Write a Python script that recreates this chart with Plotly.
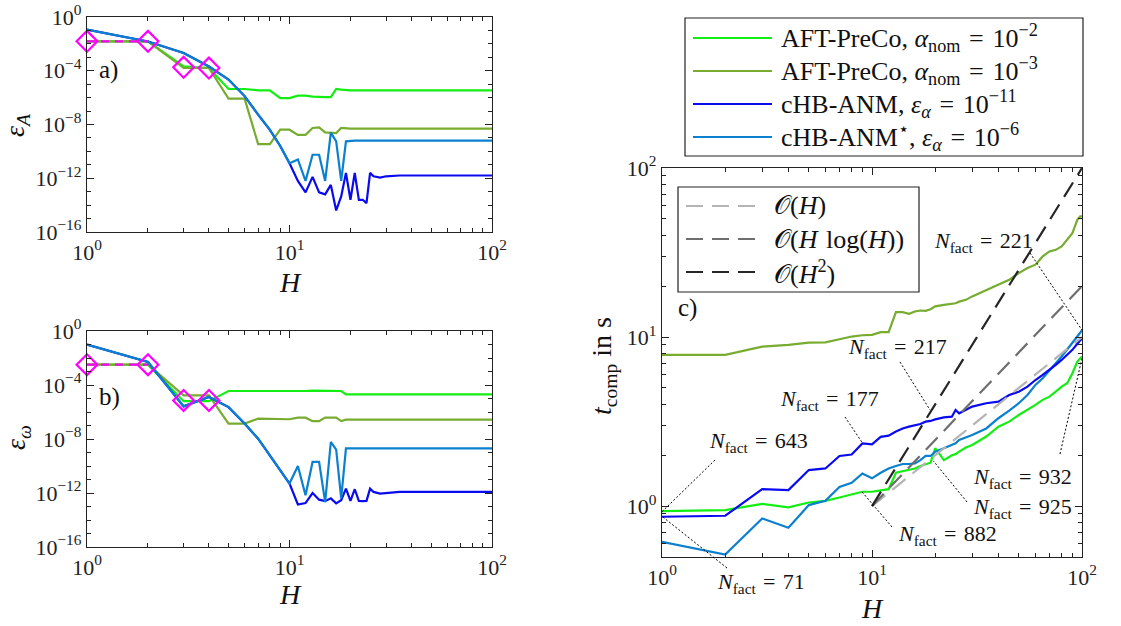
import math
import plotly.graph_objects as go

W, HGT = 1121, 626
FONT = "Liberation Serif"

C_AFT2 = "#12ee12"
C_AFT3 = "#77ac30"
C_ANM = "#0a0af0"
C_ANMS = "#0a80cf"
C_MARK = "#ff00ff"

# ---------------- data: panels a) and b) ----------------
H_ab = list(range(1, 27)) + [28, 30, 35, 40, 50, 60, 80, 100]

epsA_aft2 = [1.55e-2, 1.55e-2, 2.1e-4, 1.6e-4, 4.4e-6, 4.4e-6, 3.5e-6, 3.5e-6, 9.3e-7, 9.3e-7,
             1.4e-6, 1.4e-6, 1.2e-6, 1.1e-6, 1.1e-6, 1.1e-6, 4.4e-6, 3.9e-6, 3.5e-6, 3.5e-6,
             3.5e-6, 3.5e-6, 3.5e-6, 3.5e-6, 3.5e-6, 3.5e-6,
             3.5e-6, 3.5e-6, 3.5e-6, 3.5e-6, 3.5e-6, 3.5e-6, 3.5e-6, 3.5e-6]
epsA_aft3 = [1.55e-2, 1.55e-2, 1.6e-4, 1.6e-4, 8.3e-7, 8.3e-7, 3.5e-10, 3.5e-10, 4.1e-9, 4.1e-9,
             1.7e-9, 1.7e-9, 5.5e-9, 6.2e-9, 2.6e-9, 2.3e-9, 2.3e-9, 5.5e-9, 4.9e-9, 4.9e-9,
             4.9e-9, 4.9e-9, 4.9e-9, 4.9e-9, 4.9e-9, 4.9e-9,
             4.9e-9, 4.9e-9, 4.9e-9, 4.9e-9, 4.9e-9, 4.9e-9, 4.9e-9, 4.9e-9]
epsA_anm = [1.15e-1, 1.5e-2, 2.1e-3, 2.1e-4, 2.2e-5, 1.3e-6, 5.4e-8, 4.0e-9, 2.5e-10, 1.3e-11,
            6.3e-13, 8.9e-14, 1.26e-12, 8.9e-14, 6.3e-14, 3.2e-13, 4.0e-15, 4.5e-14, 2.5e-12, 2.5e-14,
            2.5e-12, 2.5e-14, 2.5e-14, 1.4e-14, 2.5e-12, 1.4e-12,
            1.1e-12, 1.4e-12, 1.6e-12, 1.6e-12, 1.6e-12, 1.6e-12, 1.6e-12, 1.6e-12]
epsA_anms = [1.15e-1, 1.5e-2, 2.1e-3, 2.1e-4, 2.2e-5, 1.3e-6, 5.4e-8, 4.0e-9, 2.5e-10, 1.3e-11,
             2.5e-11, 6.3e-13, 5.6e-11, 5.6e-11, 6.3e-13, 2.5e-9, 5.6e-10, 6.3e-13, 5.6e-10, 6.3e-10,
             6.3e-10, 6.3e-10, 6.3e-10, 6.3e-10, 6.3e-10, 6.3e-10,
             6.3e-10, 6.3e-10, 6.3e-10, 6.3e-10, 6.3e-10, 6.3e-10, 6.3e-10, 6.3e-10]

epsW_aft2 = [3.2e-3, 3.2e-3, 6.3e-6, 6.3e-6, 3.6e-5, 3.6e-5, 3.3e-5, 3.3e-5, 3.6e-5, 3.6e-5,
             3.6e-5, 3.6e-5, 3.8e-5, 3.8e-5, 3.8e-5, 3.8e-5, 3.8e-5, 3.6e-5, 2.0e-5, 2.0e-5,
             2.0e-5, 2.0e-5, 2.0e-5, 2.0e-5, 2.0e-5, 2.0e-5,
             2.0e-5, 2.0e-5, 2.0e-5, 2.0e-5, 2.0e-5, 2.0e-5, 2.0e-5, 2.0e-5]
epsW_aft3 = [3.2e-3, 3.2e-3, 1.7e-5, 1.7e-5, 1.4e-7, 1.4e-7, 3.2e-7, 3.2e-7, 2.9e-7, 2.9e-7,
             3.8e-7, 3.8e-7, 2.1e-7, 2.1e-7, 3.8e-7, 3.8e-7, 3.8e-7, 2.1e-7, 2.7e-7, 2.7e-7,
             2.7e-7, 2.7e-7, 2.7e-7, 2.7e-7, 2.7e-7, 2.7e-7,
             2.7e-7, 2.7e-7, 2.7e-7, 2.7e-7, 2.7e-7, 2.7e-7, 2.7e-7, 2.7e-7]
epsW_anm = [1.0e-1, 5.0e-3, 2.6e-6, 1.3e-5, 2.3e-6, 1.4e-7, 1.05e-8, 6.3e-10, 5.0e-11, 5.0e-12,
            1.4e-13, 1.8e-13, 1.0e-12, 3.2e-13, 2.5e-13, 4.0e-13, 1.7e-13, 2.9e-13, 2.1e-12, 2.6e-13,
            1.9e-12, 2.6e-13, 2.5e-13, 2.6e-13, 2.1e-12, 1.2e-12,
            8.9e-13, 1.0e-12, 1.2e-12, 1.2e-12, 1.2e-12, 1.2e-12, 1.2e-12, 1.2e-12]
epsW_anms = [1.0e-1, 5.0e-3, 2.6e-6, 1.3e-5, 2.3e-6, 1.4e-7, 1.05e-8, 6.3e-10, 5.0e-11, 5.0e-12,
             1.0e-10, 6.8e-13, 2.0e-10, 2.0e-10, 2.1e-13, 6.0e-9, 1.6e-9, 4.0e-13, 2.0e-9, 2.0e-9,
             2.0e-9, 2.0e-9, 2.0e-9, 2.0e-9, 2.0e-9, 2.0e-9,
             2.0e-9, 2.0e-9, 2.0e-9, 2.0e-9, 2.0e-9, 2.0e-9, 2.0e-9, 2.0e-9]

H_mark = [1, 2, 3, 4]
markA = [1.55e-2, 1.55e-2, 1.8e-4, 1.6e-4]
markW = [3.2e-3, 3.2e-3, 7.2e-6, 7.2e-6]

# ---------------- data: panel c) ----------------
H_c = list(range(1, 21)) + [22, 24, 25, 26, 28, 30, 35, 40, 45, 50, 55, 60, 65, 70, 75, 80, 85, 90, 95, 98, 100]
t_aft3 = [7.84, 7.84, 8.78, 8.99, 9.28, 9.31, 9.70, 10.07, 10.25, 10.30,
          10.68, 10.68, 14.03, 14.03, 13.72, 14.16, 14.36, 14.3, 14.6, 15.2,
          15.5, 15.7, 15.85, 16.2, 16.6, 17.4, 19.0, 20.4, 21.8, 23.9, 25.6, 26.8,
          30.0, 32.1, 32.8, 34.4, 37.6, 41.2, 49.4, 51.7, 51.7]
t_aft2 = [0.934, 0.947, 1.03, 0.982, 1.05, 1.075, 1.125, 1.17, 1.216, 1.216,
          1.244, 1.26, 1.575, 1.61, 1.65, 1.67, 1.726, 1.774, 1.806, 2.20,
          1.87, 2.0, 2.03, 2.10, 2.22, 2.30, 2.58, 2.95, 3.16, 3.46, 3.70, 3.97,
          4.25, 4.44, 4.76, 5.09, 5.33, 6.11, 7.16, 7.5, 7.67]
t_anm = [0.865, 0.877, 1.26, 1.244, 1.634, 1.67, 1.98, 2.02, 2.35, 2.32,
         2.57, 2.61, 2.76, 2.88, 2.95, 3.02, 3.06, 3.16, 3.19, 3.26,
         3.35, 3.38, 3.70, 3.54, 3.70, 3.88, 4.06, 4.15, 4.54, 4.75, 5.09, 5.57,
         5.97, 6.39, 6.84, 7.32, 7.84, 8.40, 9.12, 9.5, 9.84]
t_anms = [0.615, 0.517, 0.845, 0.744, 1.014, 1.075, 1.30, 1.375, 1.56, 1.46,
          1.575, 1.67, 1.726, 1.774, 1.774, 1.79, 1.87, 1.98, 1.98, 2.10,
          2.20, 2.30, 2.35, 2.46, 2.55, 2.63, 2.88, 3.31, 3.67, 4.06, 4.54, 5.21,
          5.70, 6.39, 7.0, 7.67, 8.40, 9.19, 10.07, 10.6, 11.0]

H_ref = [10, 100]
t_O_H = [1, 10]
t_O_HlogH = [1, 20]
t_O_H2 = [1, 100]

SP = "\u2004"
legend_main = ["AFT-PreCo, <i>α</i><sub>nom</sub>" + SP + "=" + SP + "10<sup>−2</sup>",
               "AFT-PreCo, <i>α</i><sub>nom</sub>" + SP + "=" + SP + "10<sup>−3</sup>",
               "cHB-ANM, <i>ε</i><sub><i>α</i></sub>" + SP + "=" + SP + "10<sup>−11</sup>",
               "cHB-ANM<sup>⋆</sup>, <i>ε</i><sub><i>α</i></sub>" + SP + "=" + SP + "10<sup>−6</sup>"]
legend_ref = ["𝒪(<i>H</i>)", "𝒪(<i>H</i>" + SP + "log(<i>H</i>))", "𝒪(<i>H</i><sup>2</sup>)"]
C_REF = ["#b4b4b4", "#6e6e6e", "#262626"]

# N_fact labels: (text, label centre px, leader start px, leader end (H, t))
nfact = [
    ("221", (983, 242), (1030, 253), (100, 11.0)),
    ("217", (897, 348), (900, 362), (18.9, 3.70)),
    ("177", (829, 400), (845, 417), (8.93, 2.40)),
    ("643", (758, 442), (715, 460), (1, 0.926)),
    ("71", (761, 583), (727, 568), (1, 0.87)),
    ("882", (947, 535), (892, 527), (8.93, 1.22)),
    ("925", (1022, 508), (967, 502), (19.6, 1.85)),
    ("932", (1022, 478), (1060, 454), (100, 7.5)),
]

# ---------------- layout geometry (pixels) ----------------
BOX_A = (87, 492, 17, 232)
BOX_B = (87, 492, 331, 547)
BOX_C = (662, 1082, 168, 557)
YC_RANGE = [math.log10(0.5), 2]


def px(x):
    return x / W


def py(y):
    return 1 - y / HGT


fig = go.Figure()

LW = 2.2


def add_series(xs, ys, color, xa, ya, width=LW, dash="solid"):
    fig.add_trace(go.Scatter(x=xs, y=ys, mode="lines", line=dict(color=color, width=width, dash=dash),
                             xaxis=xa, yaxis=ya, showlegend=False, hoverinfo="skip"))


for (xa, ya, s_aft2, s_aft3, s_anm, s_anms, mk) in [
        ("x", "y", epsA_aft2, epsA_aft3, epsA_anm, epsA_anms, markA),
        ("x2", "y2", epsW_aft2, epsW_aft3, epsW_anm, epsW_anms, markW)]:
    add_series(H_ab, s_aft2, C_AFT2, xa, ya)
    add_series(H_ab, s_aft3, C_AFT3, xa, ya)
    add_series(H_ab, s_anm, C_ANM, xa, ya)
    add_series(H_ab, s_anms, C_ANMS, xa, ya)
    fig.add_trace(go.Scatter(x=H_mark[:2], y=mk[:2], mode="lines",
                             line=dict(color=C_MARK, width=LW, dash="8px,6px"),
                             xaxis=xa, yaxis=ya, showlegend=False, hoverinfo="skip"))
    fig.add_trace(go.Scatter(x=H_mark, y=mk, mode="markers",
                             marker=dict(symbol="diamond-open", size=16, color=C_MARK,
                                         line=dict(color=C_MARK, width=2.2)),
                             xaxis=xa, yaxis=ya, showlegend=False, hoverinfo="skip", cliponaxis=False))

add_series(H_c, t_aft3, C_AFT3, "x3", "y3")
add_series(H_c, t_aft2, C_AFT2, "x3", "y3")
add_series(H_c, t_anms, C_ANMS, "x3", "y3")
add_series(H_c, t_anm, C_ANM, "x3", "y3")
for tv, col in zip([t_O_H, t_O_HlogH, t_O_H2], C_REF):
    add_series(H_ref, tv, col, "x3", "y3", width=2.2, dash="17px,9px")

tickfont = dict(family=FONT, size=22, color="#222")


def log_axis(domain, rng, tickvals, ticktext, minor_vals, anchor, standoff):
    return dict(type="log", domain=domain, range=rng, anchor=anchor, automargin=False,
                showline=True, linecolor="#222", linewidth=1.2, mirror="allticks",
                ticks="inside", ticklen=7, tickwidth=1, tickcolor="#222",
                tickmode="array", tickvals=tickvals, ticktext=ticktext,
                minor=dict(ticks="inside", ticklen=4, tickcolor="#222", tickmode="array",
                           tickvals=minor_vals, showgrid=False),
                showgrid=False, zeroline=False, tickfont=tickfont, ticklabelstandoff=standoff)


x_major = [1, 10, 100]
x_text = ["10<sup>0</sup>", "10<sup>1</sup>", "10<sup>2</sup>"]
x_minor = [m * d for d in (1, 10) for m in range(2, 10)]
ye_major = [10.0 ** k for k in (-16, -12, -8, -4, 0)]
ye_text = ["10<sup>−16</sup>", "10<sup>−12</sup>", "10<sup>−8</sup>", "10<sup>−4</sup>", "10<sup>0</sup>"]
ye_minor = [10.0 ** k for k in range(-16, 1) if k % 4 != 0]
yc_minor = [0.5, 0.6, 0.7, 0.8, 0.9] + [m * d for d in (1, 10) for m in range(2, 10)]


def dom_x(b):
    return [px(b[0]), px(b[1])]


def dom_y(b):
    return [py(b[3]), py(b[2])]


fig.update_layout(
    xaxis=log_axis(dom_x(BOX_A), [0, 2], x_major, x_text, x_minor, "y", 0),
    yaxis=log_axis(dom_y(BOX_A), [-16, 0], ye_major, ye_text, ye_minor, "x", 0),
    xaxis2=log_axis(dom_x(BOX_B), [0, 2], x_major, x_text, x_minor, "y2", 0),
    yaxis2=log_axis(dom_y(BOX_B), [-16, 0], ye_major, ye_text, ye_minor, "x2", 0),
    xaxis3=log_axis(dom_x(BOX_C), [0, 2], x_major, x_text, x_minor, "y3", 0),
    yaxis3=log_axis(dom_y(BOX_C), YC_RANGE, x_major, x_text, yc_minor, "x3", 0),
)

annotations = []
shapes = []


def text(x, y, s, size=20, xanchor="center", angle=0):
    annotations.append(dict(x=px(x), y=py(y), xref="paper", yref="paper", text=s, showarrow=False,
                            xanchor=xanchor, yanchor="middle", textangle=angle,
                            font=dict(family=FONT, size=size, color="#111")))


# axis titles
text(290, 283, "<i>H</i>", size=28)
text(290, 594, "<i>H</i>", size=28)
text(872, 608, "<i>H</i>", size=28)
text(17, 125, "<i>ε</i><sub><i>A</i></sub>", size=28, angle=-90)
text(17, 438, "<i>ε</i><sub><i>ω</i></sub>", size=28, angle=-90)
text(603, 366, "<i>t</i><sub>comp</sub> in s", size=28, angle=-90)
# panel labels
text(97, 70, "a)", size=25, xanchor="left")
text(97, 397, "b)", size=25, xanchor="left")
text(676, 308, "c)", size=25, xanchor="left")


def pdom_c(xp, yp):
    return (xp - BOX_C[0]) / (BOX_C[1] - BOX_C[0]), (BOX_C[3] - yp) / (BOX_C[3] - BOX_C[2])


def ddom_c(h, t):
    return (math.log10(h) - 0) / 2, (math.log10(t) - YC_RANGE[0]) / (YC_RANGE[1] - YC_RANGE[0])


for lab, (cx, cy), (sx, sy), (eh, et) in nfact:
    text(cx, cy, "<i>N</i><sub>fact</sub>" + SP + "=" + SP + lab, size=22)
    x0, y0 = pdom_c(sx, sy)
    x1, y1 = ddom_c(eh, et)
    shapes.append(dict(type="line", xref="x3 domain", yref="y3 domain", x0=x0, y0=y0, x1=x1, y1=y1,
                       line=dict(color="black", width=1, dash="2px,2px")))

# main legend
shapes.append(dict(type="rect", xref="paper", yref="paper", x0=px(685), x1=px(1083), y0=py(156), y1=py(18),
                   line=dict(color="#222", width=1.2), fillcolor="white", layer="above"))
for i, (lab, col) in enumerate(zip(legend_main, [C_AFT2, C_AFT3, C_ANM, C_ANMS])):
    yy = 38 + i * 33
    shapes.append(dict(type="line", xref="paper", yref="paper", x0=px(693), x1=px(772), y0=py(yy), y1=py(yy),
                       line=dict(color=col, width=LW), layer="above"))
    text(779, yy, lab, size=26, xanchor="left")

# reference legend in panel c
shapes.append(dict(type="rect", xref="paper", yref="paper", x0=px(678), x1=px(919), y0=py(292), y1=py(187),
                   line=dict(color="#222", width=1.2), fillcolor="white", layer="above"))
for i, (lab, col) in enumerate(zip(legend_ref, C_REF)):
    yy = 206 + i * 33
    shapes.append(dict(type="line", xref="paper", yref="paper", x0=px(686), x1=px(762), y0=py(yy), y1=py(yy),
                       line=dict(color=col, width=2.2, dash="17px,9px"), layer="above"))
    text(772, yy, lab, size=26, xanchor="left")

fig.update_layout(
    width=W, height=HGT, margin=dict(l=0, r=0, t=0, b=0, autoexpand=False),
    paper_bgcolor="white", plot_bgcolor="white",
    showlegend=False, annotations=annotations, shapes=shapes,
    font=dict(family=FONT, color="#111"),
)

# remove the browser's default page margin so the figure fills the window exactly
fig.write_html("out.html", config={"displayModeBar": False},
               post_script="document.body.style.margin='0';")
